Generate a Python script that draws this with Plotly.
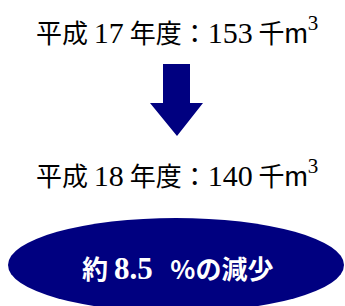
import plotly.graph_objects as go

years = [17, 18]
volumes = [153, 140]
reduction_pct = 8.5

W, H = 345, 306
NAVY = "#000080"
CJK = "Noto Sans CJK JP"
SERIF = "Liberation Serif"

def line_text(y, v):
    return (f"平成 <span style='font-family:{SERIF};font-size:30px'>{y}</span> 年度：" 
            f"<span style='font-family:{SERIF};font-size:30px'>{v}</span> 千"
            f"<span style='font-family:Liberation Sans;font-size:28px'>m</span>"
            f"<span style='font-family:{SERIF};font-size:30px'><sup>3</sup></span>")

fig = go.Figure()
fig.add_trace(go.Scatter(x=[0], y=[0], mode="markers", marker=dict(opacity=0),
                         hoverinfo="skip", showlegend=False))

# arrow
fig.add_shape(type="path",
              path="M163,64 L190,64 L190,103 L203,103 L177,136 L150,103 L163,103 Z",
              fillcolor=NAVY, line=dict(width=0), xref="x", yref="y")
# ellipse
fig.add_shape(type="circle", x0=8, x1=344, y0=218, y1=312,
              fillcolor=NAVY, line=dict(width=0), xref="x", yref="y")

fig.add_annotation(x=177, y=30, text=line_text(years[0], volumes[0]), showarrow=False,
                   xref="x", yref="y", font=dict(family=CJK, size=26, color="black"))
fig.add_annotation(x=177, y=173, text=line_text(years[1], volumes[1]), showarrow=False,
                   xref="x", yref="y", font=dict(family=CJK, size=26, color="black"))
fig.add_annotation(x=177, y=267,
                   text=f"<b>約 <span style='font-family:{SERIF};font-size:31px'>{reduction_pct}</span>&nbsp;&nbsp; %の減少</b>",
                   showarrow=False, xref="x", yref="y",
                   font=dict(family=CJK, size=26, color="white"))

fig.update_layout(width=W, height=H, margin=dict(l=0, r=0, t=0, b=0),
                  paper_bgcolor="white", plot_bgcolor="white",
                  xaxis=dict(range=[0, W], visible=False, fixedrange=True),
                  yaxis=dict(range=[H, 0], visible=False, fixedrange=True))
fig.write_html("out.html", config={"displayModeBar": False},
               post_script="document.body.style.margin='0';document.body.style.overflow='hidden';")
